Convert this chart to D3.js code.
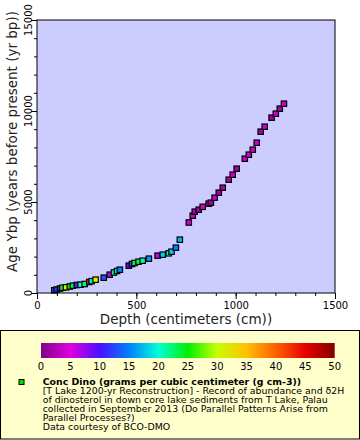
<!DOCTYPE html>
<html><head><meta charset="utf-8">
<script src="https://cdn.jsdelivr.net/npm/d3@7"></script>
<style>body{margin:0;background:#fff}svg{display:block}text{font-family:"DejaVu Sans",sans-serif}</style>
</head><body>
<svg id="c" width="360" height="440"></svg>
<script>
// Data
const depth = [87,99,116,128,146,165,181,200,219,240,263,275,295,336,366,387,403,417,462,478,491,511,532,563,607,633,663,677,699,719,
  764,784,794,814,834,864,875,894,915,935,965,985,1005,1046,1066,1086,1106,1126,1146,1181,1202,1222,1243];
const age = [148,192,247,291,313,357,401,440,456,495,604,648,731,841,1005,1127,1209,1280,1500,1593,1648,1720,1775,1885,2050,2105,2181,2269,2489,2929,
  3874,4247,4467,4577,4736,4907,4962,5236,5511,5786,6225,6500,6830,7379,7599,7874,8258,8863,9137,9632,9852,10126,10401];
const conc = [13,12,10,26,30,25,23,9,20,22,44,19,31,13,6,22,19,15,10,12,24,23,21,16,6,18,21,18,15,17,
  4,4,2,2,4,4,2,4,2,2,2,4,2,4,4,4,4,2,4,2,4,2,4];
const xTicks = [0,500,1000,1500];
const yTicks = [0,5000,10000,15000];
const cbTicks = [0,5,10,15,20,25,30,35,40,45,50];
const cbColors = ["#80008a","#e000e0","#4a10ff","#0080ff","#00ffd8","#00f000","#c8ff00","#ffc000","#ff6000","#e80000","#800000"];
const seriesTitle = "Conc Dino (grams per cubic centimeter (g cm-3))";
const descLines = ["[T Lake 1200-yr Reconstruction] - Record of abundance and δ2H",
  "of dinosterol in down core lake sediments from T Lake, Palau",
  "collected in September 2013 (Do Parallel Patterns Arise from",
  "Parallel Processes?)",
  "Data courtesy of BCO-DMO"];

const svg = d3.select("#c");
const L=37,R=335,T=20,B=293;
const x = d3.scaleLinear().domain([0,1500]).range([L,R]);
const y = d3.scaleLinear().domain([0,15000]).range([B,T]);
const color = d3.scaleLinear().domain(cbTicks).range(cbColors).clamp(true);

svg.append("rect").attr("x",L).attr("y",T).attr("width",R-L).attr("height",B-T).attr("fill","#ccccff");

// axes
const gx = svg.append("g").attr("transform",`translate(0,${B})`);
gx.call(d3.axisBottom(x).tickValues(d3.range(0,1501,100)).tickSize(3).tickFormat(""));
gx.call(g=>g.selectAll(".domain").remove());
const gx2 = svg.append("g").attr("transform",`translate(0,${B})`);
gx2.call(d3.axisBottom(x).tickValues(xTicks).tickSize(6).tickPadding(3).tickFormat(d3.format("d")));
gx2.selectAll(".domain").remove();
gx2.selectAll("text").attr("font-size",10).attr("font-family","DejaVu Sans").attr("fill","#000");

const gy = svg.append("g").attr("transform",`translate(${L},0)`);
gy.call(d3.axisLeft(y).tickValues(d3.range(0,15001,1000)).tickSize(3).tickFormat(""));
gy.selectAll(".domain").remove();
const gy2 = svg.append("g").attr("transform",`translate(${L},0)`);
gy2.call(d3.axisLeft(y).tickValues(yTicks).tickSize(6).tickFormat(""));
gy2.selectAll(".domain").remove();
svg.selectAll(".yl").data(yTicks).enter().append("text")
  .attr("transform",d=>`translate(32,${y(d)}) rotate(-90)`)
  .attr("text-anchor","middle").attr("font-size",10).text(d=>d);

// points
svg.append("g").selectAll("rect").data(depth.map((d,i)=>({d,a:age[i],c:conc[i]}))).enter().append("rect")
  .attr("x",p=>x(p.d)-2.7).attr("y",p=>y(p.a)-2.7).attr("width",5.4).attr("height",5.4)
  .attr("fill",p=>color(p.c)).attr("stroke","#000").attr("stroke-width",1.2);

svg.append("rect").attr("x",L).attr("y",T).attr("width",R-L).attr("height",B-T).attr("fill","none").attr("stroke","#000").attr("stroke-width",1);

// titles
svg.append("text").attr("x",(L+R)/2).attr("y",324).attr("text-anchor","middle").attr("font-size",13.5).attr("fill","#222").text("Depth (centimeters (cm))");
svg.append("text").attr("transform",`translate(17,141.5) rotate(-90)`).attr("text-anchor","middle").attr("font-size",13.5).attr("fill","#222").text("Age Ybp (years before present (yr bp))");

// legend box
svg.append("rect").attr("x",0.5).attr("y",330.5).attr("width",359).attr("height",108.5).attr("fill","#ffffcc").attr("stroke","#000").attr("stroke-width",1);
const cbx = d3.scaleLinear().domain([0,50]).range([41,334.7]);
const defs = svg.append("defs");
const grad = defs.append("linearGradient").attr("id","cb");
cbTicks.forEach((t,i)=>grad.append("stop").attr("offset",(t/50*100)+"%").attr("stop-color",cbColors[i]));
svg.append("rect").attr("x",cbx(0)).attr("y",343).attr("width",cbx(50)-cbx(0)).attr("height",15).attr("fill","url(#cb)");
svg.selectAll(".cbl").data(cbTicks).enter().append("text").attr("x",d=>cbx(d)).attr("y",370)
  .attr("text-anchor","middle").attr("font-size",10).text(d=>d);

svg.append("rect").attr("x",19).attr("y",379.5).attr("width",5).attr("height",5).attr("fill","#00e000").attr("stroke","#000").attr("stroke-width",1);
svg.append("text").attr("x",42.7).attr("y",385).attr("font-size",9.4).attr("font-weight","bold").text(seriesTitle);
descLines.forEach((s,i)=>svg.append("text").attr("x",42.7).attr("y",394+i*8.9).attr("font-size",9.4).text(s));
</script>
</body></html>
